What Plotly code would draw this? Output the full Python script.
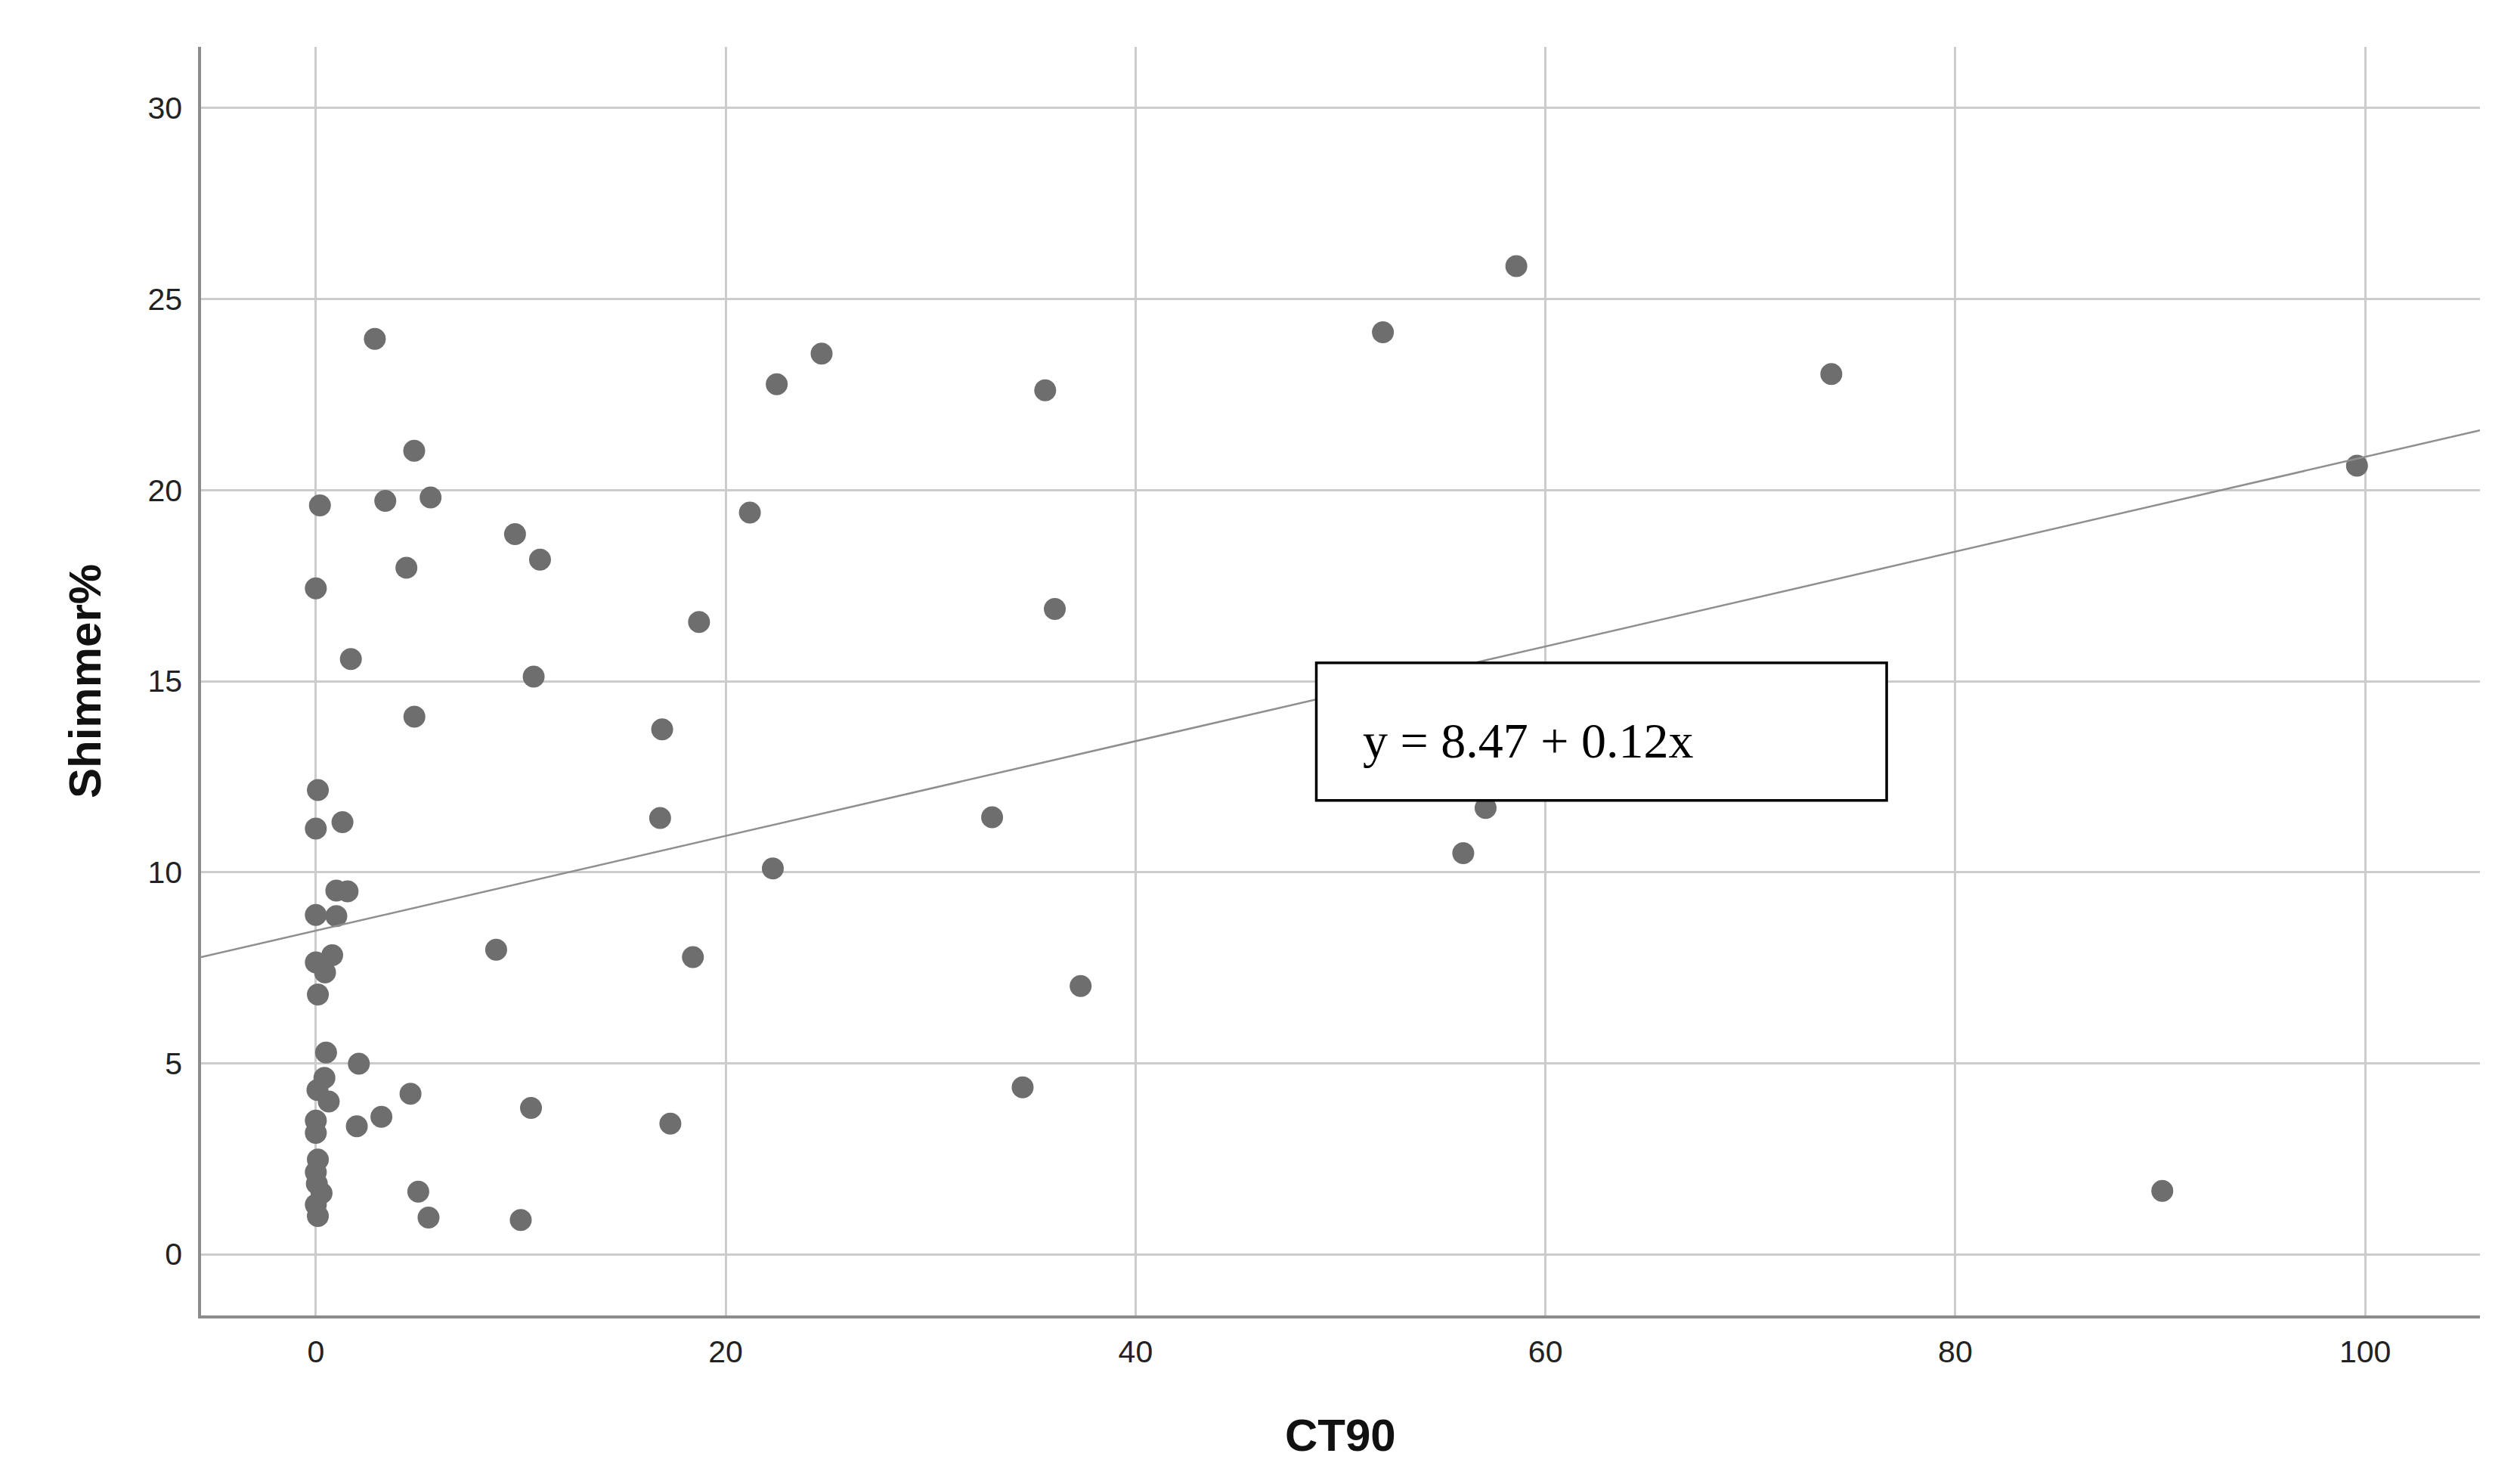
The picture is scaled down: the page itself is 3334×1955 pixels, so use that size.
import plotly.graph_objects as go

# ---- data ----
ct90 = [0.0, 0.2, 0.1, 0.0, 1.3, 1.0, 1.55, 0.0, 1.0, 0.8, 0.0, 0.45, 0.1,
        0.5, 2.1, 0.42, 0.08, 0.63, 4.62, 3.2, 2.0, 0.0, 0.0, 0.1, 0.0, 0.05,
        0.28, 0.0, 0.1, 5.0, 5.5, 10.0, 10.5, 17.3, 8.8, 18.4, 4.8, 2.88,
        3.39, 5.6, 9.72, 10.94, 4.42, 1.71, 10.63, 4.81, 16.9, 16.8, 22.3,
        18.7, 21.18, 22.49, 24.68, 35.59, 36.06, 33.0, 37.32, 34.49, 52.07,
        58.58, 73.95, 99.6, 90.1, 55.99, 57.08]
shimmer = [17.43, 19.6, 12.15, 11.14, 11.31, 9.52, 9.5, 8.88, 8.85, 7.83, 7.64,
           7.38, 6.8, 5.28, 4.99, 4.62, 4.3, 4.0, 4.2, 3.6, 3.35, 3.5, 3.18,
           2.48, 2.15, 1.85, 1.6, 1.3, 1.0, 1.64, 0.96, 0.9, 3.83, 3.42, 7.97,
           7.78, 21.03, 23.96, 19.72, 19.81, 18.85, 18.18, 17.97, 15.58, 15.12,
           14.07, 13.74, 11.42, 10.1, 16.55, 19.41, 22.77, 23.57, 22.61, 16.89,
           11.44, 7.02, 4.37, 24.13, 25.86, 23.04, 20.64, 1.66, 10.5, 11.68]

fit_intercept = 8.47
fit_slope = 0.124
equation_label = "y = 8.47 + 0.12x"

x_ticks = [0, 20, 40, 60, 80, 100]
y_ticks = [0, 5, 10, 15, 20, 25, 30]
x_range = [-5.6, 105.6]
y_range = [-1.6, 31.6]

# ---- figure ----
fig = go.Figure()

fig.add_trace(go.Scatter(
    x=ct90, y=shimmer, mode="markers",
    marker=dict(size=29, color="#6e6e6e", line=dict(width=0)),
    showlegend=False, hoverinfo="x+y",
))

fit_x = list(x_range)
fit_y = [fit_intercept + fit_slope * v for v in fit_x]
fig.add_trace(go.Scatter(
    x=fit_x, y=fit_y, mode="lines",
    line=dict(color="#8f8f8f", width=2.5),
    showlegend=False, hoverinfo="skip",
))

axis_common = dict(
    showgrid=True, gridcolor="#cccccc", gridwidth=2.5,
    showline=True, linecolor="#8c8c8c", linewidth=3.5,
    zeroline=False, ticks="",
    tickfont=dict(family="Liberation Sans, Arial, sans-serif", size=41, color="#222222"),
    fixedrange=True,
)

fig.update_xaxes(range=x_range, tickvals=x_ticks, ticklabelstandoff=9, **axis_common)
fig.update_yaxes(range=y_range, tickvals=y_ticks, ticklabelstandoff=13, **axis_common)

# equation box
fig.add_shape(type="rect", xref="x", yref="y",
              x0=48.82, x1=76.65, y0=11.88, y1=15.48,
              line=dict(color="black", width=3.5), fillcolor="white", layer="above")
fig.add_annotation(x=51.0, y=13.45, xref="x", yref="y",
                   text=equation_label, showarrow=False,
                   xanchor="left", yanchor="middle",
                   font=dict(family="Liberation Serif, Times New Roman, serif", size=66, color="black"))

# axis titles
title_font = dict(family="Liberation Sans, Arial, sans-serif", size=60, color="#111111")
fig.add_annotation(text="<b>CT90</b>", xref="paper", yref="paper", x=0.5, y=0,
                   xanchor="center", yanchor="middle", yshift=-158,
                   showarrow=False, font=title_font)
fig.add_annotation(text="<b>Shimmer%</b>", xref="paper", yref="paper", x=0, y=0.5,
                   xanchor="center", yanchor="middle", xshift=-154, textangle=-90,
                   showarrow=False, font=title_font)

# page body has an 8px default margin, so the figure is sized/offset to compensate
fig.update_layout(
    width=3318, height=1939,
    margin=dict(l=258, r=45, t=54, b=207, pad=0),
    paper_bgcolor="white", plot_bgcolor="white",
)

fig.write_html("out.html")
